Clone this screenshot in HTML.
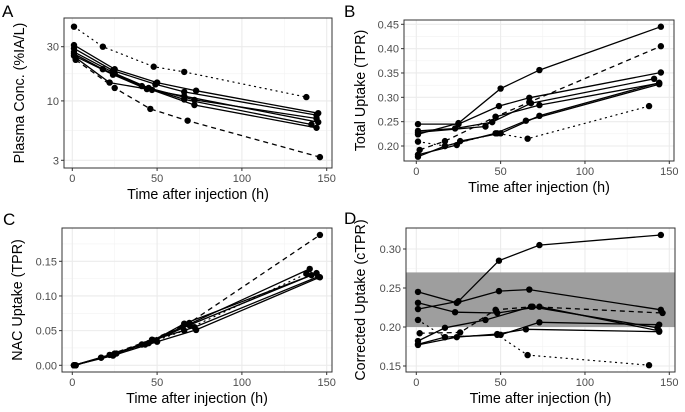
<!DOCTYPE html>
<html><head><meta charset="utf-8"><style>
body{margin:0;background:#fff;font-family:"Liberation Sans",sans-serif}
svg text{font-family:"Liberation Sans",sans-serif}
</style></head><body>
<svg id="s" width="685" height="407" xmlns="http://www.w3.org/2000/svg"></svg>
<script>
// ---- Panel A data (log scale) ----
const aTimes=[[1,25,50,73,145],[1,24,49,66,144],[1,25,45,72,144],[1,18,41,66,141],[2,22,47,72,144],[1,24,44,66,145],[1,18,48,66,138],[2,25,46,68,146]];
const aVals=[[31,19,14.5,12.3,7.8],[29,18.5,14,12,7.5],[27,17.5,13,10.2,7],[26,19,13.5,10.3,6.2],[24,14.5,12.5,9.2,5.8],[25,17,12.7,11,6.5],[45,30,20,18,10.8],[23,13,8.5,6.7,3.2]];
const aTicks=[3,10,30];
// ---- Panel B data ----
const bTimes=[[1,25,50,73,145],[1,25,49,67,145],[1,23,45,68,141],[1,41,47,73,144],[1,17,47,65,144],[1,24,26,50,73,144],[1,17,48,66,138],[2,17,47,67,145]];
const bVals=[[0.224,0.247,0.318,0.356,0.445],[0.245,0.245,0.282,0.299,0.351],[0.231,0.236,0.249,0.288,0.338],[0.228,0.240,0.260,0.284,0.329],[0.178,0.200,0.226,0.252,0.327],[0.182,0.202,0.210,0.226,0.262,0.330],[0.209,0.200,0.226,0.215,0.282],[0.192,0.210,0.260,0.290,0.405]];
const bTicks=[0.20,0.25,0.30,0.35,0.40,0.45];
// ---- Panel C data ----
const cTimes=[[1,17,41,65,140],[1,22,45,69,144],[2,25,47,72,145],[1,24,50,73,146],[1,26,43,66,138],[1,24,48,66,141],[2,17,47,69,146]];
const cVals=[[0,0.011,0.030,0.055,0.139],[0,0.015,0.032,0.058,0.133],[0,0.017,0.036,0.055,0.128],[0,0.014,0.034,0.051,0.127],[0,0.017,0.030,0.050,0.132],[0,0.015,0.036,0.060,0.130],[0,0.011,0.037,0.061,0.188]];
const cTicks=[0,0.05,0.10,0.15];
// ---- Panel D data ----
const dTimes=[[1,25,49,73,145],[1,24,49,67,145],[1,23,48,73,144],[1,17,41,68,143],[1,17,50,73,144],[1,24,48,65,144],[1,17,48,66,138],[2,26,47,69,146]];
const dVals=[[0.223,0.233,0.285,0.305,0.318],[0.245,0.231,0.246,0.248,0.222],[0.231,0.219,0.218,0.226,0.195],[0.182,0.199,0.209,0.226,0.199],[0.178,0.187,0.190,0.206,0.203],[0.177,0.187,0.191,0.197,0.194],[0.209,0.187,0.190,0.164,0.151],[0.192,0.193,0.222,0.226,0.218]];
const dTicks=[0.15,0.20,0.25,0.30];
const dBand=[0.20,0.27];
const xTicks=[0,50,100,150];
const aStyles=['s','s','s','s','s','s','dot','dash'];
const bStyles=['s','s','s','s','s','s','dot','dash'];
const cStyles=['s','s','s','s','dot','s','dash'];
const dStyles=['s','s','s','s','s','s','dot','dash'];

const svg=document.getElementById('s');
const NS='http://www.w3.org/2000/svg';
function el(t,a,p){const e=document.createElementNS(NS,t);for(const k in a)e.setAttribute(k,a[k]);(p||svg).appendChild(e);return e;}

function panel(cfg){
  const g=el('g',{});
  
  
  const xs=v=>cfg.x0+(v/150)*(cfg.x150-cfg.x0);
  const ys=cfg.ys;
  el('rect',{x:cfg.L,y:cfg.T,width:cfg.R-cfg.L,height:cfg.B-cfg.T,fill:'#fff'},g);
  for(let i=0;i<xTicks.length-1;i++){const m=(xTicks[i]+xTicks[i+1])/2;el('line',{x1:xs(m),x2:xs(m),y1:cfg.T,y2:cfg.B,stroke:'#f2f2f2','stroke-width':0.6},g);}
  (cfg.minorY||[]).forEach(v=>el('line',{x1:cfg.L,x2:cfg.R,y1:ys(v),y2:ys(v),stroke:'#f2f2f2','stroke-width':0.6},g));
  xTicks.forEach(v=>el('line',{x1:xs(v),x2:xs(v),y1:cfg.T,y2:cfg.B,stroke:'#ebebeb','stroke-width':1.1},g));
  cfg.yTicks.forEach(v=>el('line',{x1:cfg.L,x2:cfg.R,y1:ys(v),y2:ys(v),stroke:'#ebebeb','stroke-width':1.1},g));
  if(cfg.band){const r=el('rect',{x:cfg.L,y:ys(cfg.band[1]),width:cfg.R-cfg.L,height:ys(cfg.band[0])-ys(cfg.band[1]),fill:'#9e9e9e'},g);
    
    }
  cfg.times.forEach((ts,i)=>{
    const st=cfg.styles[i];
    const pts=ts.map((t,j)=>xs(t).toFixed(1)+','+ys(cfg.vals[i][j]).toFixed(1)).join(' ');
    const pl=el('polyline',{points:pts,fill:'none',stroke:'#000','stroke-width':st==='dot'?1.2:1.3,'stroke-dasharray':st==='dash'?'5,4':st==='dot'?'1,4.5':'none','stroke-linecap':st==='dot'?'round':'butt'},g);
    
    
    ts.forEach((t,j)=>{const c=el('circle',{cx:xs(t),cy:ys(cfg.vals[i][j]),r:3.2,fill:'#000'},g);
      
      });
  });
  el('rect',{x:cfg.L,y:cfg.T,width:cfg.R-cfg.L,height:cfg.B-cfg.T,fill:'none',stroke:'#333','stroke-width':1},g);
  xTicks.forEach(v=>{el('line',{x1:xs(v),x2:xs(v),y1:cfg.B,y2:cfg.B+3,stroke:'#333'},g);
    const t=el('text',{x:xs(v),y:cfg.B+14,'font-size':11,fill:'#4d4d4d','text-anchor':'middle'},g);t.textContent=v;
    
    });
  cfg.yTicks.forEach(v=>{el('line',{x1:cfg.L-3,x2:cfg.L,y1:ys(v),y2:ys(v),stroke:'#333'},g);
    const t=el('text',{x:cfg.L-5,y:ys(v)+4,'font-size':11,fill:'#4d4d4d','text-anchor':'end'},g);t.textContent=cfg.fmt(v);
    
    });
  const xt=el('text',{x:(cfg.L+cfg.R)/2,y:cfg.B+31,'font-size':14.3,fill:'#000','text-anchor':'middle'},g);xt.textContent='Time after injection (h)';
  
  
  const cy=(cfg.T+cfg.B)/2;
  const yt=el('text',{x:cfg.ytx,y:cy,'font-size':14.3,fill:'#000','text-anchor':'middle',transform:`rotate(-90 ${cfg.ytx} ${cy})`},g);yt.textContent=cfg.ytitle;
  
  
  const lt=el('text',{x:cfg.lx,y:cfg.ly,'font-size':17,fill:'#000'},g);lt.textContent=cfg.letter;
  
  
}
const lin=(v0,p0,v1,p1)=>v=>p0+(v-v0)*(p1-p0)/(v1-v0);
const logA=v=>46.7-(Math.log10(v)-Math.log10(30))*113.6;
panel({letter:'A',L:64,R:332,T:18,B:168,x0:72.3,x150:326.7,ys:logA,yTicks:aTicks,minorY:[Math.sqrt(30),Math.sqrt(300)],fmt:v=>String(v),times:aTimes,vals:aVals,styles:aStyles,ytitle:'Plasma Conc. (%IA/L)',ytx:24,lx:2,ly:17});
panel({letter:'B',L:404,R:674,T:20,B:161,x0:416.3,x150:669.3,ys:lin(0.20,146,0.45,24.3),yTicks:bTicks,minorY:[0.225,0.275,0.325,0.375,0.425],fmt:v=>v.toFixed(2),times:bTimes,vals:bVals,styles:bStyles,ytitle:'Total Uptake (TPR)',ytx:365,lx:344,ly:17});
panel({letter:'C',L:62,R:332,T:228,B:372,x0:72.3,x150:326.7,ys:lin(0,365.3,0.15,261.3),yTicks:cTicks,minorY:[0.025,0.075,0.125,0.175],fmt:v=>v.toFixed(2),times:cTimes,vals:cVals,styles:cStyles,ytitle:'NAC Uptake (TPR)',ytx:22,lx:3,ly:225});
panel({letter:'D',L:406,R:675,T:228,B:372,x0:416.3,x150:669.3,ys:lin(0.15,366,0.30,249),yTicks:dTicks,minorY:[0.175,0.225,0.275],fmt:v=>v.toFixed(2),times:dTimes,vals:dVals,styles:dStyles,band:dBand,ytitle:'Corrected Uptake (cTPR)',ytx:365,lx:344,ly:224});
</script>
</body></html>
